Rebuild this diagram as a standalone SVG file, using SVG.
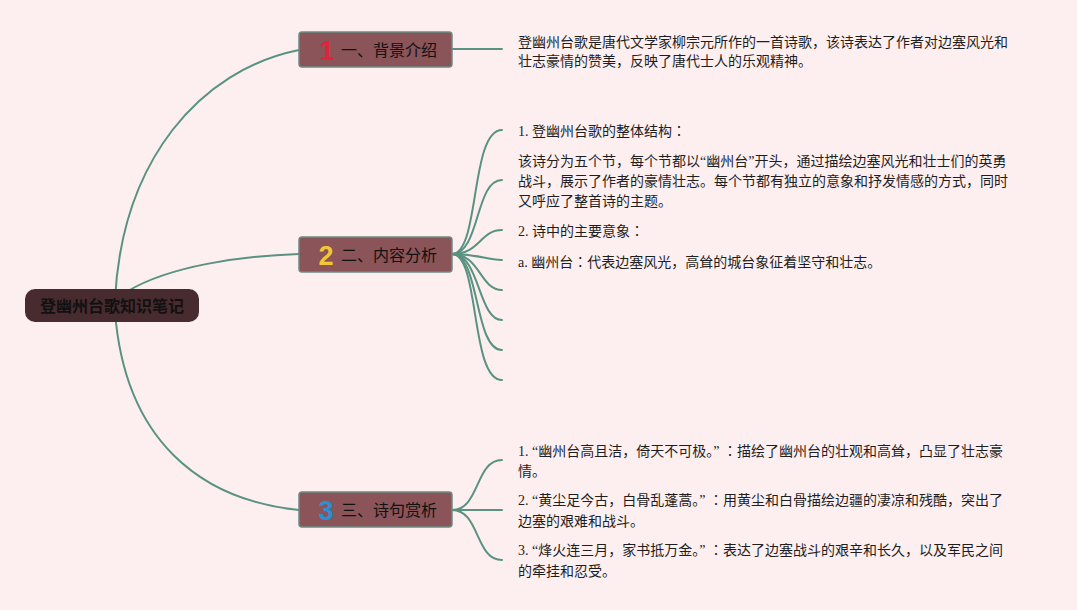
<svg xmlns="http://www.w3.org/2000/svg" width="1077" height="610" viewBox="0 0 1077 610">
<style>
.bg{fill:#fdeff0}
.link{fill:none;stroke:#5a9282;stroke-width:2;stroke-linecap:round}
.branch{fill:#8a5458;stroke:#6b8c83;stroke-width:1.5}
.root{fill:#482b2e}
.rtxt{font-family:"Noto Sans CJK SC","Noto Sans",sans-serif;font-size:16px;font-weight:bold;fill:#111}
.btxt{font-family:"Noto Sans CJK SC","Noto Sans",sans-serif;font-size:16px;fill:#111}
.num{font-family:"Liberation Sans","Noto Sans",sans-serif;font-size:27px;font-weight:bold}
.txt{font-family:"Liberation Serif","Noto Sans CJK SC",serif;font-size:14px;fill:#1e1e1e}
.c{font-family:"Noto Sans CJK JP",sans-serif}
</style>
<rect class="bg" x="0" y="0" width="1077" height="610"/>
<g id="connectors">
<path class="link" d="M115,300 C122,160 200,70 299,50"/>
<path class="link" d="M128,291 C170,266 240,256 299,254"/>
<path class="link" d="M115,312 C125,440 200,500 299,510"/>
<path class="link" d="M452,49 L502,49"/>
<path class="link" d="M452,254 C480,254 470,130 502,130"/>
<path class="link" d="M452,254 C480,254 475,180 502,180"/>
<path class="link" d="M452,254 C480,254 480,230 502,230"/>
<path class="link" d="M452,254 C480,254 485,260 502,260"/>
<path class="link" d="M452,254 C480,254 480,290 502,290"/>
<path class="link" d="M452,254 C480,254 478,320 502,320"/>
<path class="link" d="M452,254 C480,254 474,350 502,350"/>
<path class="link" d="M452,254 C480,254 470,380 502,380"/>
<path class="link" d="M452,510 C480,510 475,460 502,460"/>
<path class="link" d="M452,510 L502,510"/>
<path class="link" d="M452,510 C480,510 475,560 502,560"/>
</g>
<g id="root">
<rect class="root" x="25" y="289" width="174" height="33" rx="10"/>
<text class="rtxt" x="112" y="311.5" text-anchor="middle">登幽州台歌知识笔记</text>
</g>
<g id="branch1">
<rect class="branch" x="299" y="32" width="153" height="35" rx="3"/>
<text class="num" x="327" y="60" text-anchor="middle" fill="#e0243a">1</text>
<text class="btxt" x="341" y="55.5">一、背景介绍</text>
</g>
<g id="branch2">
<rect class="branch" x="299" y="237" width="153" height="35" rx="3"/>
<text class="num" x="326" y="265" text-anchor="middle" fill="#f2c735">2</text>
<text class="btxt" x="341" y="260.5">二、内容分析</text>
</g>
<g id="branch3">
<rect class="branch" x="299" y="492" width="153" height="35" rx="3"/>
<text class="num" x="326" y="520" text-anchor="middle" fill="#2b8fd6">3</text>
<text class="btxt" x="341" y="515.5">三、诗句赏析</text>
</g>
<g id="leaf1">
<text class="txt" x="518" y="47">登幽州台歌是唐代文学家柳宗元所作的一首诗歌，该诗表达了作者对边塞风光和</text>
<text class="txt" x="518" y="66">壮志豪情的赞美，反映了唐代士人的乐观精神。</text>
</g>
<g id="leaf2">
<text class="txt" x="518" y="136">1. 登幽州台歌的整体结构<tspan class="c">：</tspan></text>
<text class="txt" x="518" y="166">该诗分为五个节，每个节都以“幽州台”开头，通过描绘边塞风光和壮士们的英勇</text>
<text class="txt" x="518" y="186">战斗，展示了作者的豪情壮志。每个节都有独立的意象和抒发情感的方式，同时</text>
<text class="txt" x="518" y="206">又呼应了整首诗的主题。</text>
<text class="txt" x="518" y="236">2. 诗中的主要意象<tspan class="c">：</tspan></text>
<text class="txt" x="518" y="267">a. 幽州台<tspan class="c">：</tspan>代表边塞风光，高耸的城台象征着坚守和壮志。</text>
</g>
<g id="leaf3">
<text class="txt" x="518" y="456">1. “幽州台高且洁，倚天不可极。” <tspan class="c">：</tspan>描绘了幽州台的壮观和高耸，凸显了壮志豪</text>
<text class="txt" x="518" y="476">情。</text>
<text class="txt" x="518" y="505">2. “黄尘足今古，白骨乱蓬蒿。” <tspan class="c">：</tspan>用黄尘和白骨描绘边疆的凄凉和残酷，突出了</text>
<text class="txt" x="518" y="526">边塞的艰难和战斗。</text>
<text class="txt" x="518" y="555">3. “烽火连三月，家书抵万金。” <tspan class="c">：</tspan>表达了边塞战斗的艰辛和长久，以及军民之间</text>
<text class="txt" x="518" y="576">的牵挂和忍受。</text>
</g>
</svg>
